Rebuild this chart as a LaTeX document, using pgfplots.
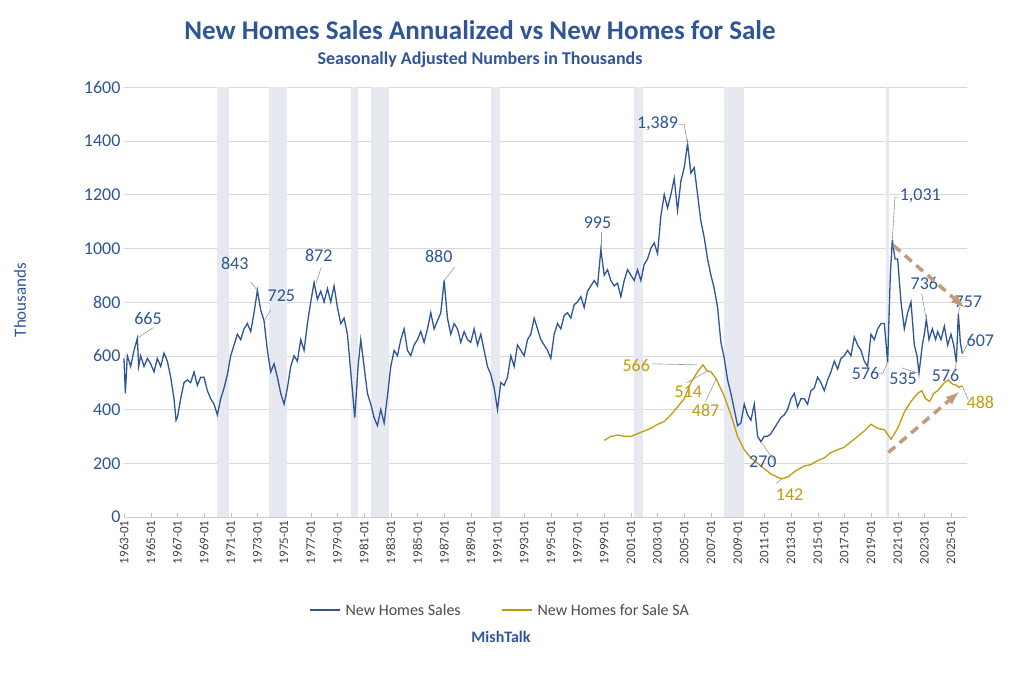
\documentclass[border=0pt]{standalone}
\usepackage{pgfplots}
\pgfplotsset{compat=1.18}
\usepackage{fontspec}
\setmainfont{Carlito}
\definecolor{tblue}{HTML}{2F5597}
\definecolor{lblue}{HTML}{2F5597}
\definecolor{gold}{HTML}{C29B0C}
\definecolor{rec}{HTML}{E6E9F0}
\definecolor{arr}{HTML}{C49A7C}
\begin{document}
\begin{tikzpicture}
\begin{axis}[scale only axis, width=843pt, height=430pt,
 xmin=1963, xmax=2026.2, ymin=0, ymax=1600,
 ytick={0,200,...,1600}, ymajorgrids, grid style={draw=black!15},
 xtick={1963,1965,1967,1969,1971,1973,1975,1977,1979,1981,1983,1985,1987,1989,1991,1993,1995,1997,1999,2001,2003,2005,2007,2009,2011,2013,2015,2017,2019,2021,2023,2025},
 xticklabels={1963-01,1965-01,1967-01,1969-01,1971-01,1973-01,1975-01,1977-01,1979-01,1981-01,1983-01,1985-01,1987-01,1989-01,1991-01,1993-01,1995-01,1997-01,1999-01,2001-01,2003-01,2005-01,2007-01,2009-01,2011-01,2013-01,2015-01,2017-01,2019-01,2021-01,2023-01,2025-01},
 x tick label style={rotate=90, anchor=east, font=\fontsize{13}{13}\selectfont, text=black!75},
 y tick label style={font=\fontsize{18}{18}\selectfont, text=tblue},
 /pgf/number format/assume math mode=true,
 /pgf/number format/1000 sep={},
 axis line style={draw=black!20}, axis y line*=left, axis x line*=bottom,
 y axis line style={draw=none}, major tick length=4pt, tick style={draw=black!25},
 ytick style={draw=none},
 clip=false]
\foreach \a/\b in {1969.95/1970.9,1973.9/1975.2,1980.0/1980.55,1981.55/1982.9,1990.55/1991.2,2001.2/2001.9,2007.95/2009.5,2020.1/2020.35}{
 \edef\tmp{\noexpand\fill[rec] (axis cs:\a,0) rectangle (axis cs:\b,1600);}\tmp}
\addplot[lblue, line width=1.3pt] coordinates {
(1963.0,590)(1963.1,460)(1963.25,600)(1963.5,560)(1963.75,620)(1964.0,665)(1964.1,560)(1964.25,600)(1964.5,560)(1964.75,590)
(1965.0,570)(1965.25,540)(1965.5,590)(1965.75,560)(1966.0,610)(1966.25,580)(1966.5,520)(1966.75,440)(1966.9,360)
(1967.0,370)(1967.25,440)(1967.5,500)(1967.75,510)(1968.0,500)(1968.25,540)(1968.5,490)(1968.75,520)
(1969.0,520)(1969.25,470)(1969.5,440)(1969.75,420)(1970.0,380)(1970.25,440)(1970.5,480)(1970.75,530)
(1971.0,600)(1971.25,640)(1971.5,680)(1971.75,660)(1972.0,700)(1972.25,720)(1972.5,690)(1972.75,760)
(1973.0,843)(1973.25,770)(1973.5,730)(1973.75,620)(1974.0,540)(1974.25,570)(1974.5,520)(1974.75,460)
(1975.0,420)(1975.25,480)(1975.5,560)(1975.75,600)(1976.0,580)(1976.25,660)(1976.5,620)(1976.75,720)
(1977.0,800)(1977.25,872)(1977.5,810)(1977.75,840)(1978.0,800)(1978.25,850)(1978.5,800)(1978.75,860)
(1979.0,780)(1979.25,720)(1979.5,740)(1979.75,680)(1980.0,540)(1980.3,370)(1980.55,560)(1980.75,660)
(1981.0,560)(1981.25,460)(1981.5,420)(1981.75,370)(1982.0,340)(1982.25,400)(1982.5,350)(1982.75,450)
(1983.0,560)(1983.25,620)(1983.5,600)(1983.75,660)(1984.0,700)(1984.25,620)(1984.5,600)(1984.75,640)
(1985.0,660)(1985.25,690)(1985.5,650)(1985.75,700)(1986.0,760)(1986.25,700)(1986.5,730)(1986.75,760)
(1987.0,880)(1987.25,740)(1987.5,680)(1987.75,720)(1988.0,700)(1988.25,650)(1988.5,690)(1988.75,660)
(1989.0,650)(1989.25,700)(1989.5,640)(1989.75,680)(1990.0,620)(1990.25,560)(1990.5,530)(1990.75,480)
(1991.0,400)(1991.25,500)(1991.5,490)(1991.75,520)(1992.0,600)(1992.25,560)(1992.5,640)(1992.75,620)
(1993.0,600)(1993.25,660)(1993.5,680)(1993.75,740)(1994.0,700)(1994.25,660)(1994.5,640)(1994.75,620)
(1995.0,590)(1995.25,680)(1995.5,720)(1995.75,700)(1996.0,750)(1996.25,760)(1996.5,740)(1996.75,790)
(1997.0,800)(1997.25,820)(1997.5,780)(1997.75,840)(1998.0,860)(1998.25,880)(1998.5,860)(1998.75,995)
(1999.0,900)(1999.25,920)(1999.5,880)(1999.75,860)(2000.0,870)(2000.25,820)(2000.5,880)(2000.75,920)
(2001.0,900)(2001.25,880)(2001.5,920)(2001.75,880)(2002.0,940)(2002.25,960)(2002.5,1000)(2002.75,1020)
(2003.0,980)(2003.25,1120)(2003.5,1200)(2003.75,1150)(2004.0,1200)(2004.25,1260)(2004.5,1140)(2004.75,1250)
(2005.0,1300)(2005.25,1389)(2005.5,1280)(2005.75,1300)(2006.0,1200)(2006.25,1100)(2006.5,1040)(2006.75,960)
(2007.0,900)(2007.25,850)(2007.5,780)(2007.75,650)(2008.0,590)(2008.25,510)(2008.5,460)(2008.75,400)
(2009.0,340)(2009.25,350)(2009.5,420)(2009.75,380)(2010.0,360)(2010.25,420)(2010.5,300)(2010.75,280)
(2011.0,300)(2011.25,300)(2011.5,310)(2011.75,330)(2012.0,350)(2012.25,370)(2012.5,380)(2012.75,400)
(2013.0,440)(2013.25,460)(2013.5,410)(2013.75,440)(2014.0,440)(2014.25,420)(2014.5,470)(2014.75,480)
(2015.0,520)(2015.25,500)(2015.5,470)(2015.75,510)(2016.0,540)(2016.25,580)(2016.5,550)(2016.75,590)
(2017.0,600)(2017.25,620)(2017.5,600)(2017.75,670)(2018.0,640)(2018.25,620)(2018.5,580)(2018.75,560)
(2019.0,680)(2019.25,660)(2019.5,700)(2019.75,720)(2020.0,720)(2020.25,576)(2020.45,900)(2020.6,1031)(2020.8,960)
(2021.0,960)(2021.25,800)(2021.5,700)(2021.75,760)(2022.0,800)(2022.25,640)(2022.45,600)(2022.6,535)(2022.85,640)
(2023.0,680)(2023.15,736)(2023.35,660)(2023.6,700)(2023.85,660)(2024.0,690)(2024.25,660)(2024.5,710)(2024.75,640)
(2025.0,680)(2025.2,640)(2025.4,576)(2025.55,757)(2025.7,650)(2025.85,607)};
\addplot[gold, line width=1.3pt] coordinates {
(1999.0,285)(1999.5,300)(2000.0,305)(2000.5,300)(2001.0,300)(2001.5,310)(2002.0,320)(2002.5,330)(2003.0,345)(2003.5,355)
(2004.0,380)(2004.5,410)(2005.0,440)(2005.5,500)(2006.0,540)(2006.4,566)(2006.7,545)(2007.0,540)(2007.4,514)
(2008.0,450)(2008.5,380)(2009.0,300)(2009.5,250)(2010.0,220)(2010.5,200)(2011.0,180)(2011.5,160)(2012.0,148)(2012.3,142)
(2012.8,150)(2013.3,170)(2014.0,190)(2014.5,195)(2015.0,210)(2015.5,220)(2016.0,240)(2016.5,250)(2017.0,260)(2017.5,280)
(2018.0,300)(2018.5,320)(2019.0,345)(2019.5,330)(2020.0,325)(2020.5,290)(2021.0,330)(2021.5,390)(2022.0,430)(2022.5,460)
(2022.8,470)(2023.1,440)(2023.4,430)(2023.7,460)(2024.0,470)(2024.5,500)(2024.8,510)(2025.1,495)(2025.4,490)(2025.6,482)(2025.85,488)};
\tikzset{lab/.style={font=\fontsize{18}{18}\selectfont, text=tblue}, gl/.style={font=\fontsize{18}{18}\selectfont, text=gold}, ld/.style={draw=black!40, line width=0.6pt}}
\node[lab] at (axis cs:1964.8,740) {665}; \draw[ld] (axis cs:1964.0,665)--(axis cs:1965.2,705);
\node[lab] at (axis cs:1971.3,943) {843}; \draw[ld] (axis cs:1972.5,875)--(axis cs:1973.0,843);
\node[lab] at (axis cs:1974.8,825) {725}; \draw[ld] (axis cs:1973.5,730)--(axis cs:1974.0,770);
\node[lab] at (axis cs:1977.6,972) {872}; \draw[ld] (axis cs:1977.4,872)--(axis cs:1977.8,930);
\node[lab] at (axis cs:1986.6,970) {880}; \draw[ld] (axis cs:1987.0,880)--(axis cs:1987.8,930);
\node[lab] at (axis cs:1998.5,1095) {995}; \draw[ld] (axis cs:1998.75,995)--(axis cs:1998.75,1060);
\node[lab] at (axis cs:2003.0,1465) {1,389}; \draw[ld] (axis cs:2005.25,1389)--(axis cs:2005.0,1460)--(axis cs:2004.6,1460);
\node[lab] at (axis cs:2022.7,1195) {1,031}; \draw[ld] (axis cs:2020.6,1031)--(axis cs:2020.8,1190)--(axis cs:2021.1,1190);
\node[lab] at (axis cs:2023.0,870) {736}; \draw[ld] (axis cs:2023.15,736)--(axis cs:2022.8,830);
\node[lab] at (axis cs:2026.3,800) {757}; \draw[ld] (axis cs:2025.55,757)--(axis cs:2025.7,790);
\node[lab] at (axis cs:2027.2,655) {607}; \draw[ld] (axis cs:2025.85,607)--(axis cs:2026.3,650);
\node[lab] at (axis cs:2018.6,535) {576}; \draw[ld] (axis cs:2020.25,576)--(axis cs:2019.9,535)--(axis cs:2019.6,535);
\node[lab] at (axis cs:2021.4,515) {535}; \draw[ld] (axis cs:2022.6,535)--(axis cs:2021.3,555);
\node[lab] at (axis cs:2024.6,525) {576}; \draw[ld] (axis cs:2025.4,576)--(axis cs:2025.2,530)--(axis cs:2025.5,530);
\node[lab] at (axis cs:2010.9,205) {270}; \draw[ld] (axis cs:2010.75,280)--(axis cs:2011.8,205);
\node[gl] at (axis cs:2001.4,565) {566}; \draw[ld] (axis cs:2002.6,570)--(axis cs:2006.0,566);
\node[gl] at (axis cs:2005.3,465) {514}; \draw[ld] (axis cs:2005.2,500)--(axis cs:2006.8,545);
\node[gl] at (axis cs:2006.6,398) {487}; \draw[ld] (axis cs:2006.6,430)--(axis cs:2007.4,514);
\node[gl] at (axis cs:2012.9,85) {142}; \draw[ld] (axis cs:2011.9,125)--(axis cs:2012.3,142);
\node[gl] at (axis cs:2027.2,425) {488}; \draw[ld] (axis cs:2025.85,488)--(axis cs:2026.3,435);
\draw[arr, line width=3.5pt, dash pattern=on 9pt off 6pt, -{latex}] (axis cs:2020.7,1010)--(axis cs:2026.0,780);
\draw[arr, line width=3.5pt, dash pattern=on 9pt off 6pt, -{latex}] (axis cs:2020.3,240)--(axis cs:2025.6,465);
\end{axis}
\useasboundingbox (-124pt,-172pt) rectangle (900pt,517pt);
\node[font=\bfseries\fontsize{27}{27}\selectfont, text=tblue] at (356pt,487pt) {New Homes Sales Annualized vs New Homes for Sale};
\node[font=\bfseries\fontsize{18}{18}\selectfont, text=tblue] at (356pt,457pt) {Seasonally Adjusted Numbers in Thousands};
\node[font=\fontsize{17}{17}\selectfont, text=tblue, rotate=90] at (-104pt,217pt) {Thousands};
\draw[lblue, line width=1.5pt] (186pt,-93pt)--(216pt,-93pt);
\node[anchor=west, font=\fontsize{16}{16}\selectfont, text=black!70] at (218pt,-93pt) {New Homes Sales};
\draw[gold, line width=1.5pt] (378pt,-93pt)--(408pt,-93pt);
\node[anchor=west, font=\fontsize{16}{16}\selectfont, text=black!70] at (410pt,-93pt) {New Homes for Sale SA};
\node[font=\bfseries\fontsize{16}{16}\selectfont, text=tblue] at (377pt,-120pt) {MishTalk};
\end{tikzpicture}
\end{document}
